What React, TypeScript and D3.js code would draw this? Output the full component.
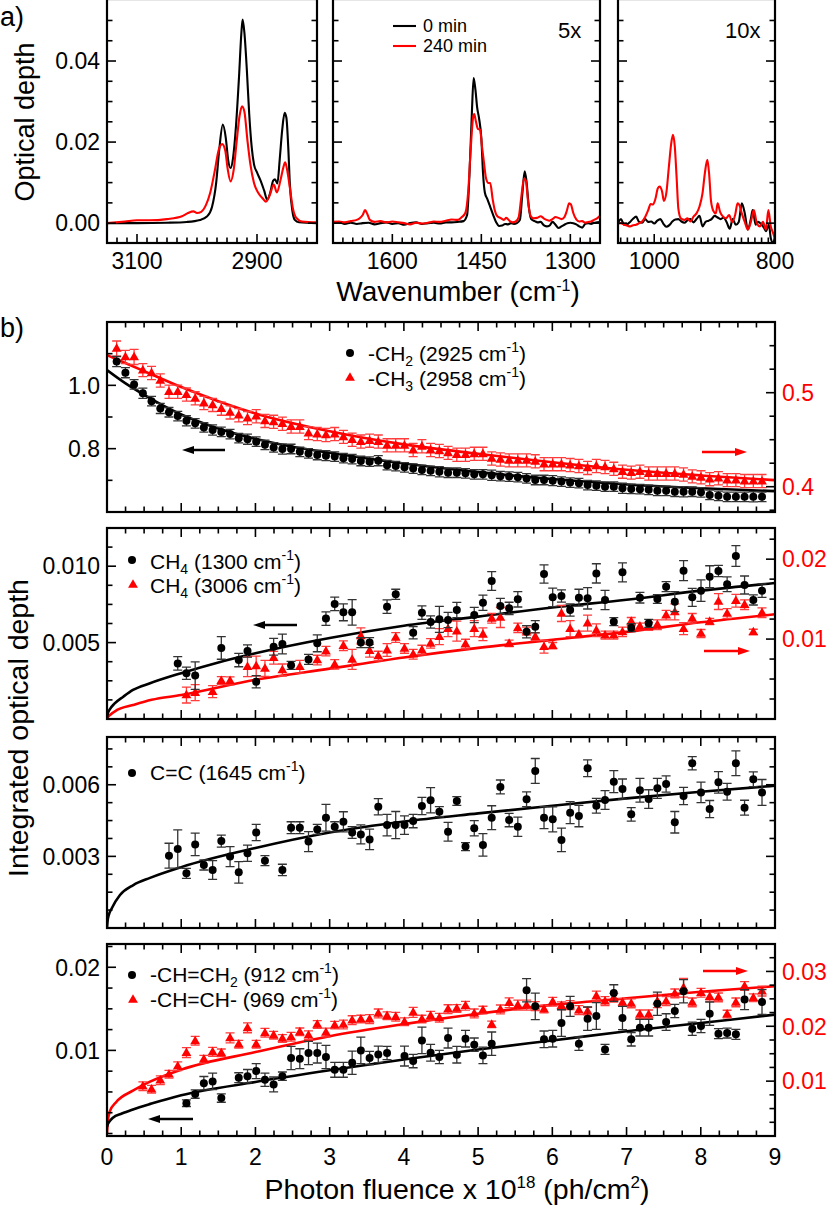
import React from "react";
import * as d3 from "d3";

const N = null;
const FONT = "'Liberation Sans', Arial, Helvetica, sans-serif";
const RED = "#ff0000";

// ================= Panel a: IR spectra (wavenumber cm-1, optical depth) =================
const wnDomainCH = [3150, 2800];
const wnDomainMid = [1700, 1250];
const wnDomainLow = [1060, 800];
const wnTicksCH = [3100, 2900];
const wnTicksMid = [1600, 1450, 1300];
const wnTicksLow = [1000, 800];
const odDomain = [-0.0049, 0.0553];
const odTicks = [0, 0.02, 0.04];

const specCH_0min = [
  [3150, 0], [3100, 0], [3050, 0.0001], [3017, 0.0003], [2995, 0.0008], [2983, 0.0017], [2975, 0.004],
  [2968, 0.01], [2963, 0.018], [2957, 0.0243], [2952, 0.021], [2948, 0.0155], [2944, 0.0136], [2940, 0.016],
  [2935, 0.024], [2930, 0.036], [2926, 0.047], [2924, 0.0502], [2921, 0.047], [2917, 0.038], [2913, 0.027],
  [2909, 0.019], [2905, 0.0145], [2900, 0.0125], [2894, 0.0105], [2888, 0.008], [2883, 0.0058], [2878, 0.0075],
  [2873, 0.0105], [2870, 0.0108], [2866, 0.0098], [2862, 0.016], [2858, 0.023], [2854, 0.0272], [2851, 0.026],
  [2848, 0.019], [2845, 0.009], [2841, 0.003], [2837, 0.0008], [2830, 0.0002], [2800, 0],
];
const specCH_240min = [
  [3150, 0], [3120, 0.0004], [3100, 0.0007], [3080, 0.0007], [3050, 0.001], [3025, 0.0017], [3015, 0.0025],
  [3006, 0.0029], [3000, 0.0025], [2993, 0.0028], [2985, 0.0045], [2978, 0.0075], [2970, 0.0132], [2964, 0.018],
  [2958, 0.0195], [2953, 0.018], [2949, 0.0135], [2944, 0.0103], [2939, 0.013], [2934, 0.02], [2929, 0.0265],
  [2925, 0.0288], [2921, 0.0275], [2916, 0.0205], [2911, 0.0145], [2905, 0.0099], [2898, 0.0075], [2890, 0.006],
  [2885, 0.0053], [2879, 0.0068], [2872, 0.0095], [2867, 0.0076], [2861, 0.0105], [2856, 0.0138], [2853, 0.015],
  [2849, 0.0125], [2845, 0.0085], [2840, 0.0035], [2834, 0.0012], [2825, 0.0004], [2800, 0.0002],
];
const specMid_0min = [
  [1700, 0], [1690, 0.0002], [1680, -0.0002], [1670, 0.0001], [1660, -0.0002], [1650, 0], [1640, 0.0001],
  [1630, -0.0003], [1620, 0], [1610, 0.0002], [1600, -0.0002], [1590, 0], [1580, -0.0004], [1570, 0],
  [1560, 0.0002], [1550, -0.0002], [1540, 0], [1530, 0.0001], [1520, -0.0001], [1510, 0.0002], [1500, 0.0002],
  [1490, 0.0003], [1480, 0.0005], [1474, 0.002], [1470, 0.012], [1466, 0.027], [1463, 0.0358], [1460, 0.033],
  [1457, 0.0285], [1454, 0.026], [1450, 0.021], [1447, 0.012], [1444, 0.0075], [1440, 0.006], [1435, 0.004],
  [1430, 0.002], [1425, 0.0002], [1420, -0.0007], [1415, -0.0006], [1410, -0.0002], [1405, -0.0003], [1400, 0],
  [1395, -0.0002], [1390, 0], [1385, 0.0008], [1381, 0.007], [1377, 0.0128], [1374, 0.0105], [1370, 0.004],
  [1366, 0.001], [1360, 0.0005], [1355, 0.0002], [1350, 0.0003], [1345, -0.0005], [1340, -0.0008],
  [1335, -0.0006], [1330, 0.0003], [1325, -0.0004], [1320, -0.0012], [1315, -0.0008], [1310, -0.0004],
  [1305, 0], [1300, 0.0001], [1295, 0], [1290, -0.0003], [1285, -0.0008], [1280, -0.0011], [1275, -0.0002],
  [1270, 0], [1265, -0.0002], [1260, 0.0001], [1255, 0.0002], [1250, 0.0003],
];
const specMid_240min = [
  [1700, 0.0003], [1690, 0.0004], [1680, 0.0002], [1670, 0.0005], [1660, 0.0008], [1655, 0.0012], [1650, 0.002],
  [1646, 0.0032], [1642, 0.0022], [1638, 0.0008], [1630, 0.0003], [1620, 0.0005], [1610, 0.0002], [1600, 0.0004],
  [1590, 0.0002], [1580, 0], [1570, -0.0003], [1560, 0.0001], [1550, -0.0001], [1540, 0.0001], [1530, 0.0004],
  [1520, 0.0003], [1510, 0.0006], [1500, 0.0009], [1490, 0.0008], [1483, 0.0015], [1477, 0.0025], [1472, 0.008],
  [1468, 0.018], [1464, 0.026], [1462, 0.0269], [1459, 0.025], [1456, 0.0233], [1452, 0.023], [1449, 0.019],
  [1446, 0.0155], [1442, 0.011], [1438, 0.0099], [1435, 0.0099], [1431, 0.006], [1427, 0.003], [1423, 0.0017],
  [1418, 0.0013], [1412, 0.0008], [1408, 0.0013], [1402, 0.0005], [1397, 0.0002], [1392, 0.0004], [1387, 0.0015],
  [1383, 0.006], [1378, 0.011], [1375, 0.0105], [1371, 0.005], [1367, 0.0018], [1362, 0.0012], [1356, 0.0013],
  [1350, 0.0017], [1345, 0.0012], [1340, 0.0008], [1335, 0.0006], [1330, 0.001], [1325, 0.0015], [1320, 0.0013],
  [1315, 0.001], [1310, 0.0015], [1306, 0.003], [1302, 0.0049], [1299, 0.0046], [1295, 0.0025], [1290, 0.0009],
  [1285, 0.0004], [1280, 0.0005], [1275, 0.0001], [1270, 0.0003], [1265, 0.0004], [1260, 0.0008], [1255, 0.0012],
  [1250, 0.0018],
];
const specLow_0min = [
  [1060, 0.0001], [1055, 0.001], [1050, -0.0004], [1045, -0.0003], [1040, 0.0003], [1035, 0.0011], [1030, 0.0016],
  [1025, 0.0003], [1020, 0.0001], [1015, 0.001], [1010, 0.0003], [1005, 0.0004], [1000, -0.0001], [995, 0.0006],
  [990, 0.001], [985, -0.0001], [980, -0.0009], [975, -0.0005], [970, 0.0004], [965, 0.0009], [960, 0.001],
  [955, 0.0004], [950, 0.0001], [945, 0.0007], [940, 0.001], [935, 0.0002], [930, 0.001], [925, 0.0018],
  [920, -0.0008], [915, 0.0003], [910, 0.0006], [905, 0.001], [900, 0.0018], [895, 0.0014], [890, 0.001],
  [885, 0.0014], [880, 0.0002], [875, -0.0014], [870, 0.001], [865, -0.0004], [860, 0.0003], [855, 0.0049],
  [850, 0.0024], [845, -0.0016], [840, 0.001], [837, 0.0032], [832, -0.0004], [828, 0.0003], [822, -0.0004],
  [818, -0.0012], [815, -0.002], [810, -0.0004], [807, -0.0037], [803, -0.0049], [800, -0.003],
];
const specLow_240min = [
  [1060, -0.0001], [1055, 0], [1050, -0.0004], [1045, -0.0006], [1040, -0.0008], [1035, -0.0005], [1030, -0.0004],
  [1025, 0], [1020, 0.0004], [1015, 0.0015], [1010, 0.0032], [1006, 0.0047], [1002, 0.0046], [998, 0.006],
  [994, 0.0086], [991, 0.009], [987, 0.0078], [984, 0.0055], [980, 0.0074], [976, 0.0135], [972, 0.0195],
  [969, 0.0218], [966, 0.019], [963, 0.0115], [960, 0.0035], [956, 0.0012], [950, 0.0008], [945, 0.0012],
  [940, 0.0004], [935, 0.0016], [930, 0.0024], [925, 0.0041], [920, 0.0074], [916, 0.0125], [912, 0.0156],
  [909, 0.012], [906, 0.0055], [902, 0.003], [898, 0.0024], [895, 0.0049], [891, 0.0028], [886, 0.0016],
  [881, 0.0012], [876, 0.002], [871, 0.0003], [866, 0.002], [862, 0.0049], [858, 0.0041], [855, 0.0024],
  [850, 0.0003], [845, -0.0016], [840, 0.0003], [835, 0.0032], [830, -0.0001], [825, -0.0008], [820, 0.0003],
  [815, -0.0016], [811, 0.0032], [807, -0.0008], [803, -0.0025], [801, -0.0035],
];

// ================= Panel b: integrated optical depth vs photon fluence =================
const fluenceTicks = [0, 1, 2, 3, 4, 5, 6, 7, 8, 9];
const fluence = [
  0.130, 0.248, 0.365, 0.483, 0.600, 0.718, 0.835, 0.953, 1.070, 1.188,
  1.305, 1.423, 1.540, 1.658, 1.775, 1.893, 2.010, 2.128, 2.245, 2.363,
  2.480, 2.598, 2.715, 2.833, 2.950, 3.068, 3.185, 3.303, 3.420, 3.538,
  3.655, 3.773, 3.890, 4.008, 4.125, 4.243, 4.360, 4.478, 4.595, 4.713,
  4.830, 4.948, 5.065, 5.183, 5.300, 5.418, 5.535, 5.653, 5.770, 5.888,
  6.005, 6.123, 6.240, 6.358, 6.475, 6.593, 6.710, 6.828, 6.945, 7.063,
  7.180, 7.298, 7.415, 7.533, 7.650, 7.768, 7.885, 8.003, 8.120, 8.238,
  8.355, 8.473, 8.590, 8.708, 8.825,
];

// b1: -CH2 (2925) left axis, -CH3 (2958) right axis
const ch2_2925 = [
  1.075, 1.040, 1.003, 0.975, 0.950, 0.927, 0.915, 0.903, 0.888, 0.880,
  0.867, 0.859, 0.853, 0.846, 0.833, 0.830, 0.822, 0.812, 0.804, 0.799,
  0.799, 0.790, 0.785, 0.780, 0.778, 0.775, 0.770, 0.767, 0.761, 0.759,
  0.762, 0.748, 0.745, 0.741, 0.737, 0.733, 0.730, 0.727, 0.724, 0.724,
  0.722, 0.719, 0.719, 0.716, 0.713, 0.712, 0.710, 0.706, 0.701, 0.701,
  0.699, 0.696, 0.693, 0.691, 0.685, 0.683, 0.680, 0.680, 0.675, 0.673,
  0.672, 0.670, 0.667, 0.667, 0.664, 0.664, 0.664, 0.662, 0.654, 0.651,
  0.648, 0.648, 0.648, 0.648, 0.648,
];
const ch2_2925_err = [
  0.016, 0.016, 0.015, 0.016, 0.015, 0.016, 0.015, 0.015, 0.016, 0.015,
  0.015, 0.016, 0.015, 0.015, 0.015, 0.016, 0.015, 0.015, 0.015, 0.016,
  0.015, 0.015, 0.015, 0.015, 0.016, 0.015, 0.015, 0.015, 0.015, 0.015,
  0.016, 0.015, 0.015, 0.015, 0.015, 0.015, 0.015, 0.016, 0.015, 0.015,
  0.015, 0.015, 0.015, 0.016, 0.015, 0.015, 0.015, 0.015, 0.015, 0.015,
  0.016, 0.015, 0.015, 0.015, 0.015, 0.015, 0.015, 0.015, 0.016, 0.015,
  0.015, 0.015, 0.015, 0.015, 0.015, 0.016, 0.015, 0.015, 0.015, 0.015,
  0.015, 0.015, 0.015, 0.016, 0.015,
];
const ch3_2958 = [
  0.547, 0.538, 0.538, 0.524, 0.521, 0.513, 0.501, 0.501, 0.498, 0.494,
  0.489, 0.487, 0.483, 0.479, 0.476, 0.473, 0.475, 0.470, 0.469, 0.467,
  0.464, 0.464, 0.457, 0.456, 0.455, 0.456, 0.453, 0.450, 0.448, 0.449,
  0.448, 0.444, 0.444, 0.444, 0.439, 0.443, 0.439, 0.438, 0.436, 0.434,
  0.434, 0.435, 0.435, 0.430, 0.429, 0.428, 0.428, 0.428, 0.427, 0.424,
  0.424, 0.424, 0.423, 0.422, 0.420, 0.422, 0.421, 0.419, 0.416, 0.415,
  0.416, 0.414, 0.414, 0.414, 0.414, 0.413, 0.411, 0.410, 0.408, 0.409,
  0.407, 0.407, 0.406, 0.406, 0.406,
];
const ch3_2958_err = [
  0.008, 0.007, 0.008, 0.007, 0.007, 0.007, 0.007, 0.007, 0.007, 0.007,
  0.007, 0.007, 0.007, 0.007, 0.007, 0.007, 0.007, 0.007, 0.007, 0.007,
  0.007, 0.007, 0.007, 0.007, 0.007, 0.007, 0.007, 0.007, 0.007, 0.007,
  0.007, 0.007, 0.007, 0.007, 0.007, 0.007, 0.007, 0.007, 0.007, 0.007,
  0.007, 0.007, 0.007, 0.007, 0.007, 0.007, 0.007, 0.007, 0.007, 0.007,
  0.007, 0.007, 0.007, 0.007, 0.007, 0.007, 0.007, 0.007, 0.007, 0.007,
  0.007, 0.007, 0.007, 0.007, 0.007, 0.007, 0.007, 0.007, 0.007, 0.007,
  0.007, 0.007, 0.007, 0.007, 0.007,
];
const fitCH2 = [[0, 1.048], [0.25, 1.006], [0.5, 0.97], [1, 0.908], [1.5, 0.864], [2, 0.831], [2.5, 0.806], [3, 0.787], [4, 0.753], [5, 0.726], [6, 0.704], [7, 0.687], [8, 0.675], [9, 0.666]];
const fitCH3 = [[0, 0.54], [0.5, 0.523], [1, 0.506], [1.5, 0.491], [2, 0.478], [3, 0.459], [4, 0.445], [5, 0.435], [6, 0.426], [7, 0.418], [8, 0.412], [9, 0.407]];

// b2: CH4 (1300) left, CH4 (3006) right
const ch4_1300 = [
  N, N, N, N, N, N, N, 0.00364, 0.00299, 0.00284,
  N, N, 0.00465, N, 0.00386, 0.00445, 0.00244, N, 0.00473, 0.00491,
  0.00351, N, 0.0039, 0.00495, 0.00657, 0.00753, 0.00698, 0.00698, 0.005, 0.005,
  N, 0.00735, 0.00816, N, 0.00565, 0.00696, 0.00635, 0.00652, 0.00648, 0.00713,
  N, 0.00681, 0.00761, 0.00903, 0.0074, 0.00724, 0.00783, 0.00571, 0.00604, 0.00949,
  0.00796, 0.00805, 0.00713, 0.00794, 0.0079, 0.00953, 0.00779, 0.00637, 0.0096, 0.00598,
  0.00794, 0.00626, 0.00785, 0.00866, 0.00768, 0.00971, 0.00796, 0.0084, 0.00931, 0.00969,
  0.00882, 0.01067, 0.00877, 0.00779, 0.0084,
];
const ch4_1300_err = [
  0, 0, 0, 0, 0, 0, 0, 0.00044, 0.0004, 0.0009,
  0, 0, 0.00074, 0, 0.00044, 0.0004, 0.0004, 0, 0.00055, 0.00065,
  0.00026, 0, 0.00033, 0.00055, 0.00044, 0.00044, 0.00055, 0.00083, 0.00033, 0.00033,
  0, 0.00044, 0.00033, 0, 0.0004, 0.00044, 0.0004, 0.00085, 0.0005, 0.0005,
  0, 0.0005, 0.0005, 0.00061, 0.0005, 0.0004, 0.0005, 0.0004, 0.0004, 0.0006,
  0.0006, 0.0004, 0.0004, 0.00055, 0.0007, 0.00063, 0.00063, 0.00026, 0.00062, 0.00026,
  0.00035, 0.00026, 0.00028, 0.00033, 0.00065, 0.00065, 0.00059, 0.0007, 0.00072, 0.00037,
  0.00048, 0.00068, 0.00059, 0.00033, 0.00044,
];
const ch4_3006 = [
  N, N, N, N, N, N, N, N, 0.003, 0.00329,
  N, 0.00342, 0.00479, 0.00478, N, 0.00654, 0.00663, 0.00633, 0.00767, 0.00613,
  N, 0.00654, N, 0.00738, 0.0085, 0.00683, 0.00917, 0.00746, 0.0104, 0.00854,
  0.00788, 0.00863, 0.0102, 0.00883, 0.0081, 0.00863, 0.00946, 0.0103, 0.0113, 0.011,
  0.00938, 0.0113, 0.0106, 0.0126, 0.0127, 0.00946, 0.0114, 0.011, 0.0103, 0.00904,
  0.00917, 0.0132, 0.0113, 0.0106, 0.012, 0.0111, 0.0105, 0.0105, 0.0109, 0.0122,
  0.0116, 0.0116, 0.0118, 0.013, 0.0134, 0.0113, 0.0126, 0.0107, 0.0122, 0.0147,
  0.0132, 0.0148, 0.0143, 0.0109, 0.0133,
];
const ch4_3006_err = [
  0, 0, 0, 0, 0, 0, 0, 0, 0.001, 0.001,
  0, 0.00075, 0.0005, 0.0005, 0, 0.00125, 0.00125, 0.001, 0.0008, 0.00075,
  0, 0.0008, 0, 0.0006, 0.0006, 0.0006, 0.0006, 0.00125, 0.001, 0.0008,
  0.0006, 0.0008, 0.0006, 0.0006, 0.0006, 0.0006, 0.0006, 0.001, 0.001, 0.00125,
  0.0006, 0.001, 0.0008, 0.0006, 0.00125, 0.0004, 0.0006, 0.0005, 0.0005, 0.0008,
  0.0004, 0.001, 0.001, 0.0004, 0.001, 0.0008, 0.0005, 0.0005, 0.0006, 0.0005,
  0.0004, 0.0005, 0.0006, 0.0006, 0.001, 0.00075, 0.0006, 0.0005, 0.0004, 0.001,
  0.0006, 0.0008, 0.0006, 0.00033, 0.0006,
];
const fitCH4_1300 = [[0, 0], [0.01, 0.00035], [0.04, 0.00065], [0.1, 0.001], [0.22, 0.00146], [0.35, 0.0019], [0.58, 0.00234], [1, 0.003], [1.5, 0.0037], [2, 0.0043], [3, 0.0053], [4, 0.0061], [5, 0.0067], [6, 0.0073], [7, 0.0078], [8, 0.0084], [9, 0.0089]];
const fitCH4_3006 = [[0, 0], [0.01, 0.0002], [0.04, 0.0005], [0.13, 0.0011], [0.35, 0.00175], [0.6, 0.0024], [1, 0.003], [2, 0.0049], [3, 0.0063], [4, 0.0077], [5, 0.0089], [6, 0.0099], [7, 0.0109], [8, 0.0121], [9, 0.0131]];

// b3: C=C (1645)
const cc_1645 = [
  N, N, N, N, N, N, 0.00303, 0.00331, 0.00229, 0.0035,
  0.00264, 0.00243, 0.00364, 0.00299, 0.00233, 0.00313, 0.004, 0.00282, N, 0.00243,
  0.0042, 0.0042, 0.00362, 0.00413, 0.00462, 0.00424, 0.00445, 0.004, 0.00392, 0.00371,
  0.00508, 0.00431, 0.00431, 0.00431, 0.00448, 0.00511, 0.00535, 0.00487, 0.00403, 0.00532,
  0.00341, 0.00418, 0.00348, 0.00462, 0.00591, 0.00452, 0.00424, 0.00539, 0.00658, 0.00462,
  0.00455, 0.00369, 0.00483, 0.00469, 0.00669, 0.00512, 0.00536, 0.00613, 0.00582, 0.00476,
  0.00577, 0.0054, 0.00585, 0.00603, 0.00443, 0.00553, 0.0069, 0.00568, 0.00498, 0.0061,
  0.00571, 0.0069, 0.00504, 0.00623, 0.00568,
];
const cc_1645_err = [
  0, 0, 0, 0, 0, 0, 0.00052, 0.0008, 0.00021, 0.00047,
  0.00021, 0.00039, 0.00025, 0.00042, 0.00045, 0.00034, 0.00034, 0.00021, 0, 0.00024,
  0.00025, 0.00025, 0.00042, 0.00021, 0.00056, 0.00021, 0.00042, 0.00025, 0.0004, 0.00043,
  0.00034, 0.00045, 0.00057, 0.00039, 0.00028, 0.00036, 0.00053, 0.00021, 0.00039, 0.00018,
  0.00017, 0.00032, 0.00047, 0.0005, 0.00029, 0.00028, 0.0004, 0.00031, 0.00052, 0.00046,
  0.00052, 0.00049, 0.00046, 0.00045, 0.00035, 0.00031, 0.00039, 0.00046, 0.00042, 0.00028,
  0.0005, 0.00039, 0.00042, 0.00034, 0.00045, 0.00036, 0.00028, 0.00043, 0.00036, 0.00045,
  0.00035, 0.00052, 0.00031, 0.00031, 0.00054,
];
const fitCC = [[0, 0], [0.01, 0.00035], [0.02, 0.0005], [0.063, 0.00082], [0.175, 0.00138], [0.355, 0.0018], [0.58, 0.0021], [1, 0.00255], [2, 0.00335], [3, 0.004], [4, 0.00446], [5, 0.0048], [6, 0.00512], [7, 0.00543], [8, 0.00571], [9, 0.00596]];

// b4: -CH=CH2 (912) left, -CH=CH- (969) right
const vinyl_912 = [
  N, N, N, N, N, N, N, N, 0.00365, 0.00474,
  0.00606, 0.00627, 0.00426, N, 0.00671, 0.0069, 0.00751, 0.00647, 0.0059, 0.0069,
  0.00908, 0.009, 0.00968, 0.00968, 0.0092, 0.00767, 0.00767, 0.00851, 0.01, 0.00908,
  0.00952, 0.00968, N, 0.00932, 0.00871, 0.0112, 0.00972, 0.0092, 0.01149, 0.00948,
  0.01141, 0.01069, 0.0094, 0.01081, N, N, N, 0.01723, 0.0153, 0.01133,
  0.01141, 0.01329, 0.0153, 0.01081, 0.01382, 0.01414, 0.01012, 0.0169, 0.01389, 0.01133,
  0.01273, 0.01273, 0.01562, 0.01341, 0.01474, 0.01711, 0.01261, 0.01293, 0.01442, 0.01201,
  0.01209, 0.01193, 0.01611, N, 0.01582,
];
const vinyl_912_err = [
  0, 0, 0, 0, 0, 0, 0, 0, 0.0004, 0.0005,
  0.0008, 0.001, 0.0005, 0, 0.0006, 0.0008, 0.0009, 0.0008, 0.0009, 0.0005,
  0.0014, 0.0012, 0.0014, 0.0012, 0.0014, 0.0009, 0.0009, 0.0014, 0.0016, 0.0008,
  0.001, 0.0008, 0, 0.0012, 0.0008, 0.0016, 0.001, 0.0008, 0.0012, 0.001,
  0.001, 0.0008, 0.001, 0.0014, 0, 0, 0, 0.0014, 0.0016, 0.001,
  0.001, 0.0016, 0.0012, 0.0008, 0.0014, 0.0016, 0.0006, 0.001, 0.0014, 0.0008,
  0.001, 0.001, 0.0014, 0.001, 0.0008, 0.0014, 0.0008, 0.0008, 0.0014, 0.0006,
  0.0006, 0.0006, 0.0012, 0, 0.0015,
];
const vinylene_969 = [
  N, N, N, 0.00907, 0.00852, 0.01017, 0.01126, 0.01272, 0.01521, 0.01735,
  0.014, 0.01534, 0.01516, 0.01789, 0.01674, 0.01972, 0.01674, 0.01881, 0.01838, 0.01777,
  0.01808, 0.01899, 0.01838, 0.02034, 0.01888, 0.02021, 0.02034, 0.02112, 0.02131, 0.02131,
  0.02235, 0.02191, 0.02173, 0.02082, 0.02253, 0.02131, 0.02191, 0.02155, 0.02313, 0.02326,
  0.02374, 0.02235, 0.02295, 0.02034, 0.02308, 0.02429, 0.02386, 0.02386, 0.02368, 0.02313,
  0.02447, 0.02374, 0.02386, 0.02295, 0.02277, 0.02551, 0.02459, 0.0252, 0.02436, 0.02418,
  0.02217, 0.02217, 0.02459, 0.02459, 0.026, 0.02702, 0.02436, 0.02611, 0.02538, 0.02527,
  0.02222, 0.02436, 0.02733, 0.0252, 0.02642,
];
const vinylene_969_err = [
  0, 0, 0, 0.0008, 0.0007, 0.0008, 0.0007, 0.0008, 0.0009, 0.0008,
  0.0007, 0.0008, 0.0007, 0.0009, 0.0007, 0.0009, 0.0007, 0.0008, 0.0007, 0.0007,
  0.0008, 0.0007, 0.0008, 0.0007, 0.0008, 0.0007, 0.0008, 0.0008, 0.0007, 0.0008,
  0.0008, 0.0007, 0.0008, 0.0007, 0.0009, 0.0007, 0.0008, 0.0008, 0.0008, 0.0007,
  0.0008, 0.0008, 0.0007, 0.0006, 0.0008, 0.0009, 0.0009, 0.0009, 0.0008, 0.0007,
  0.0008, 0.0007, 0.0008, 0.0008, 0.0007, 0.0009, 0.0008, 0.0008, 0.0007, 0.0008,
  0.0008, 0.0008, 0.0012, 0.0008, 0.0008, 0.0017, 0.0008, 0.0008, 0.0008, 0.0008,
  0.0007, 0.0008, 0.0008, 0.0007, 0.0009,
];
const fitVinyl = [[0, 0.0008], [0.01, 0.0011], [0.03, 0.0014], [0.08, 0.0019], [0.2, 0.0024], [0.35, 0.0029], [0.6, 0.0036], [1, 0.0046], [2, 0.0062], [3, 0.0076], [4, 0.0089], [5, 0.0101], [6, 0.0112], [7, 0.0123], [8, 0.0133], [9, 0.0143]];
const fitVinylene = [[0, 0.0004], [0.01, 0.0025], [0.035, 0.0044], [0.125, 0.0062], [0.355, 0.0083], [0.58, 0.0099], [1, 0.0121], [2, 0.0153], [3, 0.0182], [4, 0.0204], [5, 0.0223], [6, 0.0239], [7, 0.0251], [8, 0.0263], [9, 0.0273]];

// ================= layout =================
const W = 830, H = 1208;
const BX0 = 107, BX1 = 775;
const xB = d3.scaleLinear().domain([0, 9]).range([BX0, BX1]);

function minorVals(a: number, b: number, step: number, majors: number[]) {
  const lo = Math.min(a, b), hi = Math.max(a, b);
  return d3.range(Math.ceil(lo / step - 1e-6), Math.floor(hi / step + 1e-6) + 1)
    .map((k) => k * step)
    .filter((v) => !majors.some((m) => Math.abs(m - v) < step * 0.05));
}

function VTicks({ scale, major, minor, x, dir, len = 9, mlen = 5.5 }: any) {
  return (
    <g stroke="#000" strokeWidth={1.6}>
      {major.map((v: number, i: number) => (
        <line key={"M" + i} x1={x} x2={x + dir * len} y1={scale(v)} y2={scale(v)} />
      ))}
      {minor.map((v: number, i: number) => (
        <line key={"m" + i} x1={x} x2={x + dir * mlen} y1={scale(v)} y2={scale(v)} />
      ))}
    </g>
  );
}
function HTicks({ scale, major, minor, y, dir, len = 9, mlen = 5.5 }: any) {
  return (
    <g stroke="#000" strokeWidth={1.6}>
      {major.map((v: number, i: number) => (
        <line key={"M" + i} y1={y} y2={y + dir * len} x1={scale(v)} x2={scale(v)} />
      ))}
      {minor.map((v: number, i: number) => (
        <line key={"m" + i} y1={y} y2={y + dir * mlen} x1={scale(v)} x2={scale(v)} />
      ))}
    </g>
  );
}

function Series({ vals, errs, y, color, errColor, shape }: any) {
  const pts: any[] = [];
  vals.forEach((v: number | null, i: number) => {
    if (v == null) return;
    const e = errs[i] || 0;
    pts.push({ x: xB(fluence[i]), y: y(v), yt: y(v + e), yb: y(v - e) });
  });
  const tri = d3.symbol().type(d3.symbolTriangle).size(42)() as string;
  return (
    <g>
      <g stroke={errColor} strokeWidth={1.3} fill="none">
        {pts.map((p, i) => (
          <path key={i} d={`M${p.x},${p.yt}V${p.yb}M${p.x - 4.5},${p.yt}H${p.x + 4.5}M${p.x - 4.5},${p.yb}H${p.x + 4.5}`} />
        ))}
      </g>
      <g fill={color}>
        {pts.map((p, i) =>
          shape === "circle" ? (
            <circle key={i} cx={p.x} cy={p.y} r={4} />
          ) : (
            <path key={i} d={tri} transform={`translate(${p.x},${p.y + 0.5})`} />
          )
        )}
      </g>
    </g>
  );
}

function Arrow({ from, to, y, color }: any) {
  const dir = Math.sign(to - from);
  const hx = to - dir * 12;
  return (
    <g>
      <line x1={from} x2={hx + dir * 2} y1={y} y2={y} stroke={color} strokeWidth={2.6} />
      <path d={`M${to},${y}L${hx},${y - 4}L${hx},${y + 4}Z`} fill={color} />
    </g>
  );
}

function Sup({ children, size = 14, up = 9 }: any) {
  return <tspan dy={-up} fontSize={size}>{children}</tspan>;
}

function FitLine({ data, y, color, clip }: any) {
  const line = d3.line<any>().x((d) => xB(d[0])).y((d) => y(d[1])).curve(d3.curveMonotoneX);
  return <path d={line(data) as string} fill="none" stroke={color} strokeWidth={2.6} clipPath={`url(#${clip})`} />;
}

function PanelB({ id, y0, y1, yL, yR, leftMajor, leftStep, leftFmt, rightMajor, rightStep, rightFmt, rightLabels, showX, children }: any) {
  const xMinor = minorVals(0, 9, 0.25, fluenceTicks);
  const rMajor = rightMajor || leftMajor;
  const rScale = yR || yL;
  const rStep = rightStep || leftStep;
  return (
    <g>
      <defs>
        <clipPath id={id}>
          <rect x={BX0} y={y0} width={BX1 - BX0} height={y1 - y0} />
        </clipPath>
      </defs>
      {children}
      <rect x={BX0} y={y0} width={BX1 - BX0} height={y1 - y0} fill="none" stroke="#000" strokeWidth={2.2} />
      <HTicks scale={xB} major={fluenceTicks} minor={xMinor} y={y0} dir={1} />
      <HTicks scale={xB} major={fluenceTicks} minor={xMinor} y={y1} dir={-1} />
      <VTicks scale={yL} major={leftMajor} minor={minorVals(yL.domain()[0], yL.domain()[1], leftStep, leftMajor)} x={BX0} dir={1} />
      <VTicks scale={rScale} major={rMajor} minor={minorVals(rScale.domain()[0], rScale.domain()[1], rStep, rMajor)} x={BX1} dir={-1} />
      <g fontSize={23} textAnchor="end">
        {leftMajor.map((v: number, i: number) => (
          <text key={i} x={BX0 - 7} y={yL(v)} dy="0.36em">{leftFmt(v)}</text>
        ))}
      </g>
      {rightLabels && (
        <g fontSize={23} fill={RED}>
          {rightMajor.map((v: number, i: number) => (
            <text key={i} x={BX1 + 7} y={yR(v)} dy="0.36em">{rightFmt(v)}</text>
          ))}
        </g>
      )}
      {showX && (
        <g fontSize={23} textAnchor="middle">
          {fluenceTicks.map((v, i) => (
            <text key={i} x={xB(v)} y={1165}>{v}</text>
          ))}
        </g>
      )}
    </g>
  );
}

export default function App() {
  // ---------- panel a ----------
  const aTop = -1, aBot = 243;
  const yA = d3.scaleLinear().domain(odDomain).range([aBot, aTop]);
  const odMinor = minorVals(0, 0.05, 0.005, odTicks);
  const subs = [
    { id: "a1", x0: 107, x1: 317, dom: wnDomainCH, major: wnTicksCH, step: 50 / 3, s0: specCH_0min, s1: specCH_240min },
    { id: "a2", x0: 333, x1: 600, dom: wnDomainMid, major: wnTicksMid, step: 50 / 3, s0: specMid_0min, s1: specMid_240min },
    { id: "a3", x0: 618, x1: 775, dom: wnDomainLow, major: wnTicksLow, step: 100 / 9, s0: specLow_0min, s1: specLow_240min },
  ];

  // ---------- panel b scales ----------
  const y1L = d3.scaleLinear().domain([0.6, 1.2]).range([512, 322]);
  const y1R = d3.scaleLinear().domain([0.3731, 0.5752]).range([512, 322]);
  const y2L = d3.scaleLinear().domain([0, 0.0125]).range([719, 528]);
  const y2R = d3.scaleLinear().domain([0, 0.0239]).range([719, 528]);
  const y3L = d3.scaleLinear().domain([0, 0.008]).range([928, 737]);
  const y4L = d3.scaleLinear().domain([-0.0003, 0.0228]).range([1136, 944]);
  const y4R = d3.scaleLinear().domain([0, 0.035]).range([1136, 944]);

  return (
    <svg width={W} height={H} style={{ position: "absolute", left: 0, top: 0, background: "#fff" }} fontFamily={FONT}>
      <rect x={0} y={0} width={W} height={H} fill="#fff" />

      {/* ================= Panel a ================= */}
      <text x={0} y={26} fontSize={27}>a)</text>
      {subs.map((s) => {
        const x = d3.scaleLinear().domain(s.dom).range([s.x0, s.x1]);
        const line = d3.line<any>().x((d) => x(d[0])).y((d) => yA(d[1])).curve(d3.curveMonotoneX);
        const minor = minorVals(s.dom[0], s.dom[1], s.step, s.major);
        return (
          <g key={s.id}>
            <defs>
              <clipPath id={s.id}>
                <rect x={s.x0} y={aTop} width={s.x1 - s.x0} height={aBot - aTop} />
              </clipPath>
            </defs>
            <g clipPath={`url(#${s.id})`} fill="none" strokeWidth={2.1}>
              <path d={line(s.s0) as string} stroke="#000" />
              <path d={line(s.s1) as string} stroke={RED} />
            </g>
            <rect x={s.x0} y={aTop} width={s.x1 - s.x0} height={aBot - aTop} fill="none" stroke="#000" strokeWidth={2.2} />
            <HTicks scale={x} major={s.major} minor={minor} y={aBot} dir={-1} />
            <VTicks scale={yA} major={odTicks} minor={odMinor} x={s.x0} dir={1} />
            <VTicks scale={yA} major={odTicks} minor={odMinor} x={s.x1} dir={-1} />
            <g fontSize={23} textAnchor="middle">
              {s.major.map((v, i) => (
                <text key={i} x={x(v)} y={269}>{v}</text>
              ))}
            </g>
          </g>
        );
      })}
      <g fontSize={23} textAnchor="end">
        {odTicks.map((v, i) => (
          <text key={i} x={100} y={yA(v)} dy="0.36em">{d3.format(".2f")(v)}</text>
        ))}
      </g>
      <text transform="translate(34,122) rotate(-90)" textAnchor="middle" fontSize={27}>Optical depth</text>
      <text x={458} y={301} textAnchor="middle" fontSize={28}>
        Wavenumber (cm<Sup size={16} up={10}>-1</Sup><tspan dy={10}>)</tspan>
      </text>
      {/* legend a */}
      <line x1={393} x2={416} y1={26} y2={26} stroke="#000" strokeWidth={2.1} />
      <line x1={393} x2={416} y1={46} y2={46} stroke={RED} strokeWidth={2.1} />
      <text x={423} y={32} fontSize={18}>0 min</text>
      <text x={423} y={52} fontSize={18}>240 min</text>
      <text x={558} y={38} fontSize={22}>5x</text>
      <text x={725} y={38} fontSize={22}>10x</text>

      {/* ================= Panel b ================= */}
      <text x={0} y={337} fontSize={27}>b)</text>

      {/* b1 */}
      <PanelB id="b1" y0={322} y1={512} yL={y1L} yR={y1R} leftMajor={[0.8, 1.0]} leftStep={0.1} leftFmt={d3.format(".1f")}
        rightMajor={[0.4, 0.5]} rightStep={0.025} rightFmt={d3.format(".1f")} rightLabels>
        <FitLine data={fitCH3} y={y1R} color={RED} clip="b1" />
        <FitLine data={fitCH2} y={y1L} color="#000" clip="b1" />
        <Series vals={ch3_2958} errs={ch3_2958_err} y={y1R} color={RED} errColor="#ff3b3b" shape="triangle" />
        <Series vals={ch2_2925} errs={ch2_2925_err} y={y1L} color="#000" errColor="#333" shape="circle" />
      </PanelB>
      <Arrow from={225} to={182} y={450} color="#000" />
      <Arrow from={702} to={747} y={452} color={RED} />
      <circle cx={350} cy={353} r={4} fill="#000" />
      <path d={d3.symbol().type(d3.symbolTriangle).size(42)() as string} transform="translate(350,378)" fill={RED} />
      <g fontSize={21}>
        <text x={368} y={361}>-CH<tspan dy={5} fontSize={14}>2</tspan><tspan dy={-5}> (2925 cm</tspan><Sup>-1</Sup><tspan dy={9}>)</tspan></text>
        <text x={368} y={386}>-CH<tspan dy={5} fontSize={14}>3</tspan><tspan dy={-5}> (2958 cm</tspan><Sup>-1</Sup><tspan dy={9}>)</tspan></text>
      </g>

      {/* b2 */}
      <PanelB id="b2" y0={528} y1={719} yL={y2L} yR={y2R} leftMajor={[0.005, 0.01]} leftStep={0.00125} leftFmt={d3.format(".3f")}
        rightMajor={[0.01, 0.02]} rightStep={0.0025} rightFmt={d3.format(".2f")} rightLabels>
        <FitLine data={fitCH4_3006} y={y2R} color={RED} clip="b2" />
        <FitLine data={fitCH4_1300} y={y2L} color="#000" clip="b2" />
        <Series vals={ch4_3006} errs={ch4_3006_err} y={y2R} color={RED} errColor="#ff3b3b" shape="triangle" />
        <Series vals={ch4_1300} errs={ch4_1300_err} y={y2L} color="#000" errColor="#333" shape="circle" />
      </PanelB>
      <Arrow from={297} to={253} y={625} color="#000" />
      <Arrow from={704} to={750} y={651} color={RED} />
      <circle cx={132} cy={560} r={4} fill="#000" />
      <path d={d3.symbol().type(d3.symbolTriangle).size(42)() as string} transform="translate(133,585)" fill={RED} />
      <g fontSize={21}>
        <text x={150} y={569}>CH<tspan dy={5} fontSize={14}>4</tspan><tspan dy={-5}> (1300 cm</tspan><Sup>-1</Sup><tspan dy={9}>)</tspan></text>
        <text x={150} y={593}>CH<tspan dy={5} fontSize={14}>4</tspan><tspan dy={-5}> (3006 cm</tspan><Sup>-1</Sup><tspan dy={9}>)</tspan></text>
      </g>

      {/* b3 */}
      <PanelB id="b3" y0={737} y1={928} yL={y3L} leftMajor={[0.003, 0.006]} leftStep={0.00075} leftFmt={d3.format(".3f")}>
        <FitLine data={fitCC} y={y3L} color="#000" clip="b3" />
        <Series vals={cc_1645} errs={cc_1645_err} y={y3L} color="#000" errColor="#333" shape="circle" />
      </PanelB>
      <circle cx={132} cy={773} r={4} fill="#000" />
      <text x={150} y={780} fontSize={21}>C=C (1645 cm<Sup>-1</Sup><tspan dy={9}>)</tspan></text>

      {/* b4 */}
      <PanelB id="b4" y0={944} y1={1136} yL={y4L} yR={y4R} leftMajor={[0.01, 0.02]} leftStep={0.0025} leftFmt={d3.format(".2f")}
        rightMajor={[0.01, 0.02, 0.03]} rightStep={0.0025} rightFmt={d3.format(".2f")} rightLabels showX>
        <FitLine data={fitVinylene} y={y4R} color={RED} clip="b4" />
        <FitLine data={fitVinyl} y={y4L} color="#000" clip="b4" />
        <Series vals={vinylene_969} errs={vinylene_969_err} y={y4R} color={RED} errColor="#ff3b3b" shape="triangle" />
        <Series vals={vinyl_912} errs={vinyl_912_err} y={y4L} color="#000" errColor="#333" shape="circle" />
      </PanelB>
      <Arrow from={193} to={148} y={1119} color="#000" />
      <Arrow from={703} to={748} y={971} color={RED} />
      <circle cx={132} cy={975} r={4} fill="#000" />
      <path d={d3.symbol().type(d3.symbolTriangle).size(42)() as string} transform="translate(133,1000)" fill={RED} />
      <g fontSize={21}>
        <text x={150} y={982}>-CH=CH<tspan dy={5} fontSize={14}>2</tspan><tspan dy={-5}> (912 cm</tspan><Sup>-1</Sup><tspan dy={9}>)</tspan></text>
        <text x={150} y={1007}>-CH=CH- (969 cm<Sup>-1</Sup><tspan dy={9}>)</tspan></text>
      </g>

      <text transform="translate(28,728) rotate(-90)" textAnchor="middle" fontSize={28.5}>Integrated optical depth</text>
      <text x={457} y={1199} textAnchor="middle" fontSize={28.5}>
        Photon fluence x 10<Sup size={17} up={11}>18</Sup><tspan dy={11}> (ph/cm</tspan><Sup size={17} up={11}>2</Sup><tspan dy={11}>)</tspan>
      </text>
    </svg>
  );
}
